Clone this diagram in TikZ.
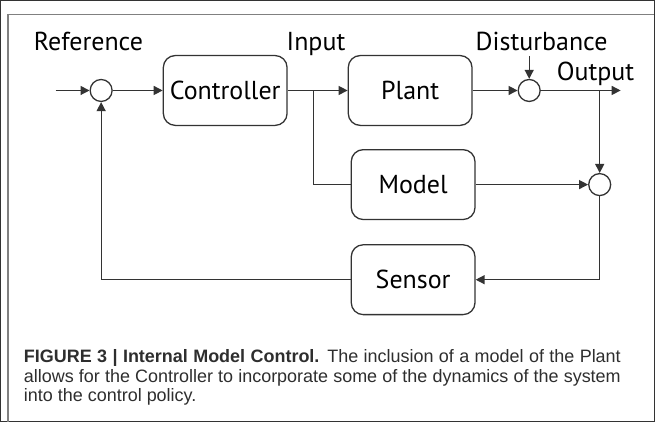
\documentclass[tikz,border=0pt]{standalone}
\usepackage{fontspec}
\setmainfont{Liberation Sans}
\newfontfamily\diagfont{PT Sans}
\usetikzlibrary{positioning,arrows.meta}
\definecolor{linegray}{HTML}{333333}
\definecolor{framegray}{HTML}{808080}
\definecolor{captiongray}{HTML}{2E2E2E}
\tikzset{
  every path/.style={draw=linegray, line width=1.3pt},
  block/.style={draw=linegray, line width=1.3pt, rounded corners=12pt, minimum width=124pt, minimum height=70pt, inner sep=0pt, font=\diagfont\fontsize{26}{29}\selectfont},
  junction/.style={circle, draw=linegray, line width=1.3pt, minimum size=22pt, inner sep=0pt, fill=white},
  lbl/.style={draw=none, fill=none, inner sep=0pt, anchor=base, font=\diagfont\fontsize{26}{29}\selectfont},
  framed/.style={draw=framegray, line width=1.5pt}
}

\begin{document}
\begin{tikzpicture}[x=1pt, y=-1pt, >={Triangle[length=9pt, width=9pt]}]
  \useasboundingbox (0,0) rectangle (655,422);
  \draw[framed] (7.5,422) -- (7.5,14) -- (655,14);

  % Nodes
  \node (sumref) [junction] at (100.7,90) {};
  \node (ctrl) [block, right=50pt of sumref] {Controller};
  \node (plant) [block, right=60pt of ctrl] {Plant};
  \node (sumdist) [junction, right=45pt of plant] {};
  \node (model) [block, below=23pt of plant, xshift=3pt] {Model};
  \node (sensor) [block, below=24pt of model] {Sensor};

  \coordinate [left=34pt of sumref] (in);
  \coordinate [right=26pt of ctrl] (split);
  \coordinate [above=23pt of sumdist] (dist);
  \coordinate [right=59pt of sumdist] (tap);
  \coordinate [right=80pt of sumdist] (out);
  \node (summodel) [junction] at (tap |- model) {};

  % Labels
  \node (reflbl) [lbl] at (88,50) {Reference};
  \node (inlbl) [lbl] at (316,50) {Input};
  \node (distlbl) [lbl] at (542,50) {Disturbance};
  \node (outlbl) [lbl] at (596,80) {Output};

  % Connectors
  \draw[->] (in) -- (sumref);
  \draw[->] (sumref) -- (ctrl);
  \draw[->] (ctrl) -- (plant);
  \draw (split) |- (model.west);
  \draw[->] (plant) -- (sumdist);
  \draw[->] (dist) -- (sumdist);
  \draw[->] (sumdist) -- (out);
  \draw[->] (tap) -- (summodel);
  \draw[->] (model) -- (summodel);
  \draw[->] (summodel.south) |- (sensor.east);
  \draw[->] (sensor.west) -| (sumref.south);

  % Caption
  \node (caption) [anchor=north west, inner sep=0pt, text width=598pt, align=justify, text=captiongray, font=\fontsize{18}{19.5}\selectfont] at (22.7,349) {%
    \textbf{FIGURE 3 | Internal Model Control.} The inclusion of a model of the Plant\linebreak
    allows for the Controller to incorporate some of the dynamics of the system\linebreak
    into the control policy.};
\end{tikzpicture}
\end{document}
